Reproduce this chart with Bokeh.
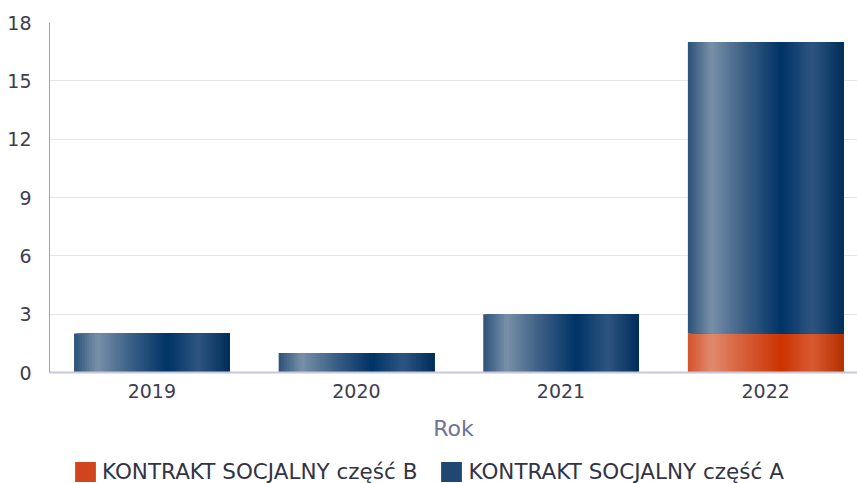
import numpy as np
from bokeh.plotting import figure
from bokeh.layouts import column
from bokeh.models import ColumnDataSource, Range1d, FixedTicker, Legend, LegendItem
from bokeh.embed import file_html
from bokeh.resources import INLINE

# ---- data ----
years = ["2019", "2020", "2021", "2022"]
part_b = [0, 0, 0, 2]      # KONTRAKT SOCJALNY część B
part_a = [2, 1, 3, 15]     # KONTRAKT SOCJALNY część A
y_ticks = [0, 3, 6, 9, 12, 15, 18]
label_b = "KONTRAKT SOCJALNY część B"
label_a = "KONTRAKT SOCJALNY część A"

# ---- style ----
FONT = "DejaVu Sans"
N = 60
BAR_W = 0.76
stops_a = [(0.0, "#2b5279"), (0.15, "#7890a8"), (0.35, "#3f6288"),
           (0.6, "#003366"), (0.8, "#2e5581"), (1.0, "#002d5a")]
stops_b = [(0.0, "#d4532a"), (0.15, "#e08a6e"), (0.35, "#d7603b"),
           (0.6, "#cc3300"), (0.8, "#d85a32"), (1.0, "#b53000")]


def h2r(h):
    h = h.lstrip("#")
    return np.array([int(h[i:i + 2], 16) for i in (0, 2, 4)], dtype=float)


def grad(stops, n):
    pos = np.array([s[0] for s in stops])
    cols = np.array([h2r(s[1]) for s in stops])
    out = []
    for k in range(n):
        t = (k + 0.5) / n
        rgb = [np.interp(t, pos, cols[:, j]) for j in range(3)]
        out.append("#%02x%02x%02x" % tuple(int(round(v)) for v in rgb))
    return out


def strips(bottoms, tops, stops):
    # each strip runs from its own left edge to the bar's right edge and is drawn
    # left to right, so the next one covers the rest: a gradient without seams
    cols = grad(stops, N)
    d = dict(l=[], r=[], b=[], t=[], c=[])
    for i, (lo, hi) in enumerate(zip(bottoms, tops)):
        if hi <= lo:
            continue
        left = i - BAR_W / 2
        right = i + BAR_W / 2
        for k in range(N):
            d["l"].append(left + k * BAR_W / N)
            d["r"].append(right)
            d["b"].append(lo)
            d["t"].append(hi)
            d["c"].append(cols[k])
    return ColumnDataSource(d)


bottom_b = [0] * len(years)
top_b = part_b
bottom_a = part_b
top_a = [b + a for b, a in zip(part_b, part_a)]

LEG_H = 33
p = figure(width=857, height=483 - LEG_H, output_backend="svg", toolbar_location=None,
           x_range=Range1d(-0.5, 3.449), y_range=Range1d(0, 18),
           min_border_left=49, min_border_right=0, min_border_top=22,
           min_border_bottom=483 - LEG_H - 372)
p.outline_line_color = None
p.background_fill_color = "white"

src_b = strips(bottom_b, top_b, stops_b)
src_a = strips(bottom_a, top_a, stops_a)
p.quad(left="l", right="r", bottom="b", top="t", fill_color="c",
       line_color=None, source=src_b)
p.quad(left="l", right="r", bottom="b", top="t", fill_color="c",
       line_color=None, source=src_a)

# axes
p.xaxis.ticker = FixedTicker(ticks=list(range(len(years))))
p.xaxis.major_label_overrides = {i: y for i, y in enumerate(years)}
p.xaxis.axis_label = "Rok"
p.xaxis.axis_label_text_font = FONT
p.xaxis.axis_label_text_font_style = "normal"
p.xaxis.axis_label_text_font_size = "22px"
p.xaxis.axis_label_text_color = "#6e7399"
p.xaxis.axis_label_standoff = 15
p.xaxis.axis_line_color = "#c8c8dc"
p.xaxis.axis_line_width = 2
p.xaxis.major_tick_line_color = None
p.xaxis.minor_tick_line_color = None
p.xaxis.major_label_standoff = 5

p.yaxis.ticker = FixedTicker(ticks=y_ticks)
p.yaxis.axis_line_color = "#9ea1b8"
p.yaxis.major_tick_line_color = None
p.yaxis.minor_tick_line_color = None
p.yaxis.major_label_standoff = 12

for ax in (p.xaxis, p.yaxis):
    ax.major_label_text_font = FONT
    ax.major_label_text_font_size = "19px"
    ax.major_label_text_color = "#3d3d4f"

p.xgrid.grid_line_color = None
p.ygrid.grid_line_color = "#e6e6e6"
p.ygrid.ticker = FixedTicker(ticks=y_ticks)

# legend strip below the chart
lg = figure(width=857, height=LEG_H, output_backend="svg", toolbar_location=None,
            x_range=Range1d(0, 1), y_range=Range1d(0, 1),
            min_border=0, x_axis_type=None, y_axis_type=None)
lg.outline_line_color = None
lg.xgrid.grid_line_color = None
lg.ygrid.grid_line_color = None
placeholder = dict(l=[np.nan], r=[np.nan], b=[np.nan], t=[np.nan])
rb = lg.quad(left="l", right="r", bottom="b", top="t", fill_color="#d2451c",
             line_color=None, source=ColumnDataSource(placeholder))
ra = lg.quad(left="l", right="r", bottom="b", top="t", fill_color="#1f4772",
             line_color=None, source=ColumnDataSource(placeholder))
legend = Legend(items=[LegendItem(label=label_b, renderers=[rb]),
                       LegendItem(label=label_a, renderers=[ra])],
                location=(23, -1), orientation="horizontal",
                border_line_alpha=0, background_fill_alpha=0,
                padding=0, margin=0, spacing=21,
                glyph_width=26, glyph_height=25, label_standoff=4,
                label_height=25,
                label_text_font=FONT, label_text_font_size="21.5px",
                label_text_color="#333344")
lg.add_layout(legend, "center")

open("out.html", "w").write(file_html(column(p, lg), INLINE))
